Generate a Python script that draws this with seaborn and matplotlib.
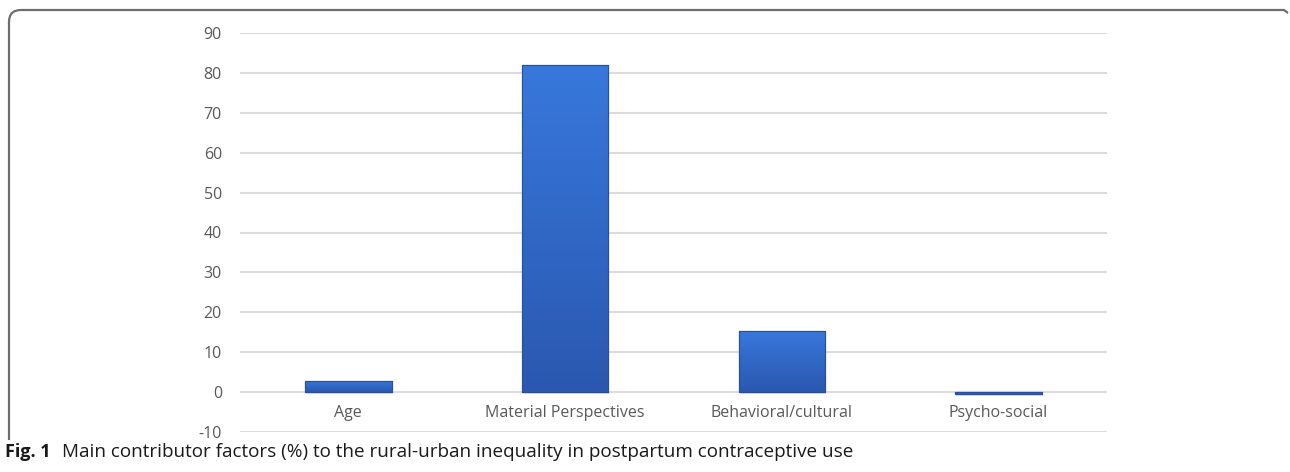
import numpy as np
import pandas as pd
import matplotlib
matplotlib.use("Agg")
import matplotlib.pyplot as plt
import seaborn as sns
from matplotlib.colors import LinearSegmentedColormap
from matplotlib.path import Path
from matplotlib.patches import PathPatch

categories = ["Age", "Material Perspectives", "Behavioral/cultural", "Psycho-social"]
values = [2.8, 82.0, 15.4, -0.5]
yticks = [-10, 0, 10, 20, 30, 40, 50, 60, 70, 80, 90]
caption_bold = "Fig. 1"
caption_text = "Main contributor factors (%) to the rural-urban inequality in postpartum contraceptive use"

sns.set_theme(style="white")
plt.rcParams["font.family"] = ["Open Sans", "DejaVu Sans"]

W, H = 1290, 472
fig = plt.figure(figsize=(W / 100, H / 100), dpi=100)
ax = fig.add_axes([240 / W, 1 - 432 / H, (1107 - 240) / W, (432 - 33) / H])

df = pd.DataFrame({"category": categories, "value": values})
sns.barplot(data=df, x="category", y="value", ax=ax, color="#3470d0",
            width=0.40, edgecolor="#2a4f9a", linewidth=0.8, zorder=3)

# gradient fill clipped to each bar
cmap = LinearSegmentedColormap.from_list("bevel", ["#2a58b0", "#3878dc"])
grad = np.linspace(0, 1, 256).reshape(-1, 1)
for p in list(ax.patches):
    x0, y0 = p.get_x(), p.get_y()
    w, h = p.get_width(), p.get_height()
    lo, hi = min(y0, y0 + h), max(y0, y0 + h)
    im = ax.imshow(grad, extent=[x0, x0 + w, lo, hi], origin="lower",
                   cmap=cmap, aspect="auto", zorder=3.5)
    im.set_clip_path(p)
    # subtle shadow below bar
    ax.add_patch(plt.Rectangle((x0 + 0.005, lo - 0.6), w, 0.6,
                               color="#cfcfcf", alpha=0.6, zorder=2.5, lw=0))
    # thin outline
    ax.add_patch(plt.Rectangle((x0, lo), w, hi - lo, fill=False,
                               edgecolor="#2a4f9a", lw=0.8, zorder=4))

ax.set_ylim(-10, 90)
ax.set_xlim(-0.5, len(categories) - 0.5)
ax.set_yticks(yticks)
ax.set_yticklabels([str(t) for t in yticks])
ax.yaxis.grid(True, color="#dcdcdc", linewidth=1.5, zorder=0)
ax.xaxis.grid(False)
for s in ["left", "right", "top"]:
    ax.spines[s].set_visible(False)
ax.spines["bottom"].set_position(("data", 0))
ax.spines["bottom"].set_visible(False)
ax.tick_params(axis="y", length=0, pad=13, labelsize=11.5, labelcolor="#595959")
ax.tick_params(axis="x", length=0, pad=9, labelsize=11.5, labelcolor="#595959")
ax.set_xlabel("")
ax.set_ylabel("")
ax.set_facecolor("white")

# frame: top line and left line with rounded corner
verts = [(9 / W, 1 - 440 / H), (9 / W, 1 - 22 / H),
         (9 / W, 1 - 10 / H), (21 / W, 1 - 10 / H),
         (1284 / W, 1 - 10 / H), (1288 / W, 1 - 13 / H)]
codes = [Path.MOVETO, Path.LINETO, Path.CURVE3, Path.CURVE3, Path.LINETO, Path.LINETO]
fig.add_artist(PathPatch(Path(verts, codes), transform=fig.transFigure,
                         fill=False, edgecolor="#6e6e6e", lw=1.6))

fig.text(5 / W, 1 - 452 / H, caption_bold, fontsize=13, fontweight="bold",
         color="#1a1a1a", va="center", ha="left")
fig.text(62 / W, 1 - 452 / H, caption_text, fontsize=13.6,
         color="#1a1a1a", va="center", ha="left")

fig.savefig("out.png", dpi=100, facecolor="white")
